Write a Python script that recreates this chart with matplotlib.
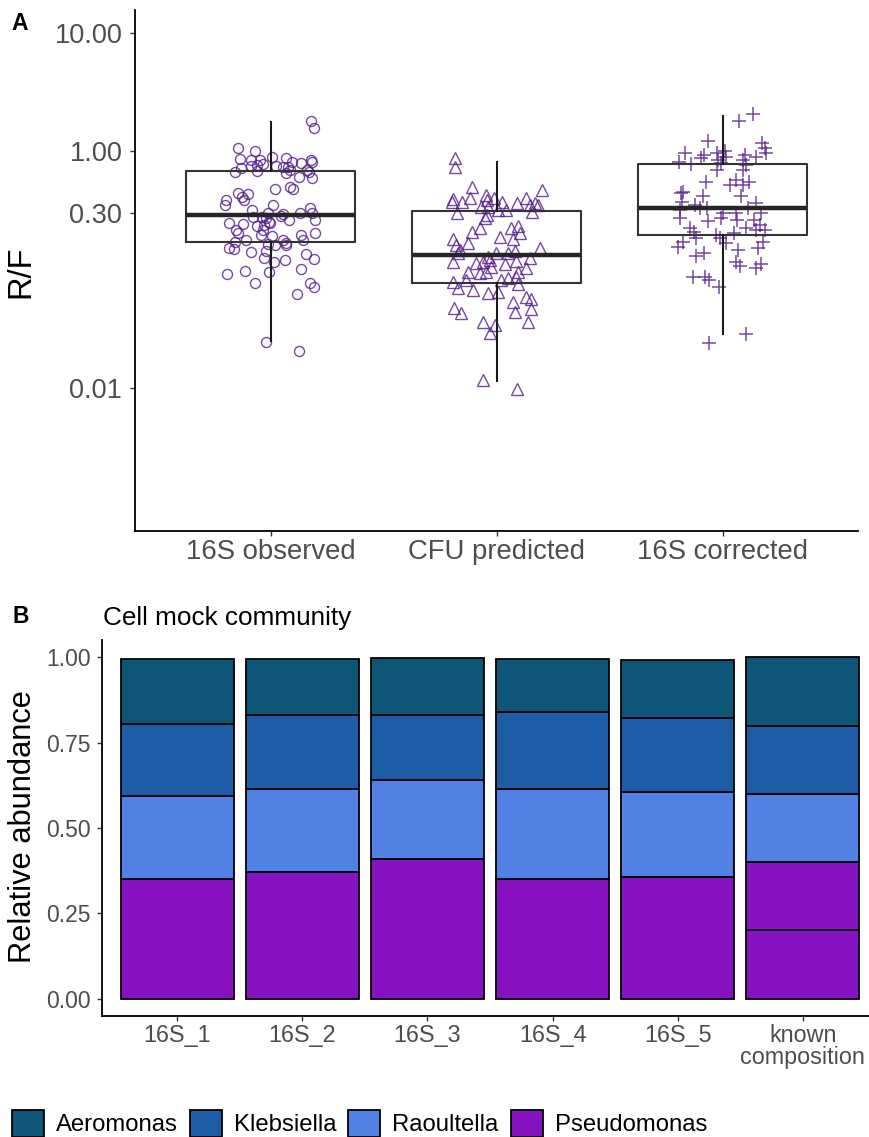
import numpy as np
import matplotlib
matplotlib.use('Agg')
import matplotlib.pyplot as plt
from matplotlib.patches import Patch
from matplotlib.ticker import FixedLocator, NullLocator

plt.rcParams['font.family'] = ['Liberation Sans', 'DejaVu Sans']

# ---------------- Panel A data ----------------
groups = ['16S observed', 'CFU predicted', '16S corrected']

obs_rf = [1.81, 1.57, 1.06, 1.00, 0.90, 0.86, 0.85, 0.84, 0.875, 0.82,
          0.80, 0.85, 0.815, 0.72, 0.76, 0.77, 0.78, 0.76, 0.74, 0.74,
          0.70, 0.675, 0.68, 0.66, 0.61, 0.70, 0.675, 0.60, 0.48, 0.50,
          0.48, 0.45, 0.415, 0.435, 0.39, 0.39, 0.35, 0.35, 0.32, 0.30,
          0.296, 0.30, 0.33, 0.30, 0.28, 0.278, 0.272, 0.255, 0.285, 0.264,
          0.264, 0.25, 0.244, 0.235, 0.239, 0.247, 0.217, 0.206, 0.217, 0.197,
          0.193, 0.197, 0.179, 0.206, 0.179, 0.173, 0.179, 0.17, 0.165, 0.162,
          0.162, 0.152, 0.149, 0.144, 0.14, 0.136, 0.127, 0.123, 0.116, 0.121,
          0.098, 0.095, 0.092, 0.101, 0.077, 0.078, 0.071, 0.062, 0.0247, 0.0207]
obs_jit = [0.18, 0.19, -0.145, -0.07, 0.006, -0.134, -0.088, -0.049, 0.069, 0.096,
           0.136, 0.18, 0.184, -0.13, -0.087, -0.06, -0.034, 0.025, 0.055, 0.077,
           0.084, -0.156, -0.059, 0.069, 0.125, 0.162, 0.168, 0.183, 0.018, 0.084,
           0.099, -0.145, -0.127, -0.10, -0.118, -0.196, -0.20, 0.01, -0.081, -0.012,
           0.055, 0.131, 0.173, 0.184, -0.078, -0.037, -0.019, -0.007, 0.047, 0.081,
           0.195, -0.186, -0.12, -0.06, -0.027, -0.004, -0.152, -0.145, -0.034, -0.041,
           0.007, 0.136, 0.143, 0.195, -0.111, -0.156, 0.055, 0.069, -0.012, 0.021,
           0.069, -0.186, -0.164, -0.022, -0.086, 0.158, -0.027, 0.19, 0.013, 0.062,
           -0.112, -0.007, -0.192, 0.136, -0.071, 0.173, 0.19, 0.118, -0.019, 0.125]

cfu_rf = [0.875, 0.744, 0.50, 0.394, 0.377, 0.377, 0.402, 0.429, 0.389, 0.402,
          0.342, 0.342, 0.377, 0.369, 0.402, 0.369, 0.473, 0.353, 0.353, 0.32,
          0.32, 0.304, 0.29, 0.272, 0.31, 0.224, 0.21, 0.19, 0.224, 0.235,
          0.203, 0.182, 0.182, 0.162, 0.167, 0.147, 0.138, 0.152, 0.129, 0.138,
          0.138, 0.145, 0.117, 0.115, 0.117, 0.121, 0.106, 0.112, 0.119, 0.125,
          0.0964, 0.0933, 0.0964, 0.0964, 0.103, 0.079, 0.082, 0.082, 0.086, 0.087,
          0.07, 0.0675, 0.064, 0.065, 0.076, 0.0538, 0.0593, 0.0563, 0.0472, 0.0434,
          0.0443, 0.0463, 0.0365, 0.0341, 0.029, 0.0365, 0.0117, 0.0098]
cfu_jit = [-0.186, -0.183, -0.109, -0.193, -0.196, -0.153, -0.117, -0.049, -0.043, -0.012,
           -0.068, -0.038, 0.025, 0.09, 0.131, 0.168, 0.20, 0.183, 0.146, 0.043,
           0.007, -0.176, -0.043, -0.053, 0.158, -0.075, -0.108, 0.016, 0.065, 0.094,
           0.102, 0.072, -0.193, -0.178, -0.127, -0.164, -0.171, 0.19, -0.038, -0.001,
           0.05, 0.08, -0.193, -0.093, -0.06, -0.031, -0.024, 0.035, 0.087, 0.146,
           -0.127, -0.075, -0.046, 0.094, 0.131, -0.193, -0.134, 0.021, 0.05, 0.087,
           -0.171, -0.105, -0.038, 0.006, 0.094, 0.072, 0.128, 0.153, -0.19, -0.159,
           0.08, 0.153, -0.058, -0.009, -0.031, 0.139, -0.06, 0.09]

cor_rf = [2.06, 1.81, 1.23, 1.17, 0.98, 1.06, 0.965, 0.934, 0.965, 1.01,
          0.904, 0.934, 0.904, 0.82, 0.78, 0.875, 0.85, 0.794, 0.85, 0.769,
          0.698, 0.698, 0.549, 0.521, 0.574, 0.521, 0.549, 0.458, 0.443, 0.423,
          0.423, 0.377, 0.353, 0.331, 0.334, 0.32, 0.30, 0.30, 0.331, 0.365,
          0.30, 0.276, 0.259, 0.272, 0.264, 0.264, 0.239, 0.224, 0.207, 0.197,
          0.185, 0.203, 0.224, 0.217, 0.217, 0.173, 0.157, 0.185, 0.167, 0.173,
          0.132, 0.138, 0.147, 0.154, 0.117, 0.108, 0.113, 0.104, 0.0875, 0.0875,
          0.082, 0.071, 0.0239, 0.0286]
cor_jit = [0.134, 0.071, -0.066, 0.176, 0.193, 0.186, -0.168, -0.084, -0.025, 0.009,
           0.016, 0.097, 0.149, -0.193, -0.139, -0.094, -0.021, -0.006, 0.09, 0.105,
           -0.025, 0.09, -0.075, 0.031, 0.058, 0.09, 0.119, -0.176, -0.183, -0.087,
           0.083, -0.18, -0.124, -0.102, -0.068, -0.19, 0.001, 0.058, 0.112, 0.149,
           0.171, -0.19, -0.065, -0.006, 0.063, 0.137, 0.164, -0.146, -0.127, -0.031,
           -0.013, 0.049, 0.105, 0.149, 0.186, -0.176, -0.198, -0.119, 0.016, 0.178,
           -0.117, -0.084, 0.068, 0.156, 0.06, 0.078, 0.171, 0.146, -0.131, -0.078,
           -0.06, -0.016, -0.058, 0.102]

# box statistics (whisker low, Q1, median, Q3, whisker high)
box_lo = [0.0252, 0.0114, 0.0285]
box_q1 = [0.171, 0.078, 0.197]
box_med = [0.29, 0.133, 0.335]
box_q3 = [0.684, 0.314, 0.78]
box_hi = [1.79, 0.81, 2.01]

yticks_a = [0.01, 0.30, 1.00, 10.00]
yticklabels_a = ['0.01', '0.30', '1.00', '10.00']

# ---------------- Panel B data ----------------
samples = ['16S_1', '16S_2', '16S_3', '16S_4', '16S_5', 'known\ncomposition']
pseudomonas = [0.351, 0.370, 0.410, 0.350, 0.356, 0.2]
pseudomonas_2 = [0.0, 0.0, 0.0, 0.0, 0.0, 0.2]
raoultella = [0.243, 0.245, 0.230, 0.264, 0.249, 0.2]
klebsiella = [0.210, 0.216, 0.192, 0.225, 0.216, 0.2]
aeromonas = [0.190, 0.164, 0.166, 0.155, 0.171, 0.2]

species_names = ['Aeromonas', 'Klebsiella', 'Raoultella', 'Pseudomonas']
species_colors = {'Aeromonas': '#0E5677', 'Klebsiella': '#1D5CA6',
                  'Raoultella': '#5281E6', 'Pseudomonas': '#8612C2'}

# ---------------- Figure ----------------
W, H = 869, 1137
fig = plt.figure(figsize=(W / 100, H / 100), dpi=100)

def fx(px):
    return px / W

def fy(py):
    return 1 - py / H

grey = '#4D4D4D'
pt_col = '#551A8B'

# Panel A axes
a_left, a_right, a_top, a_bot = 135, 858.2, 10, 530.7
axA = fig.add_axes([fx(a_left), fy(a_bot), fx(a_right - a_left), (a_bot - a_top) / H])
axA.set_yscale('log')
axA.set_xlim(0.4, 3.6)
axA.set_ylim(0.000623, 15.7)

markers = ['o', '^', '+']
msizes = [7.2, 8.6, 9.5]
for i, (vals, jit) in enumerate([(obs_rf, obs_jit), (cfu_rf, cfu_jit), (cor_rf, cor_jit)]):
    xs = np.array(jit) + (i + 1)
    if markers[i] == '+':
        axA.plot(xs, vals, linestyle='none', marker='+', markersize=msizes[i],
                 mec=pt_col, mew=1.1, alpha=0.8, zorder=2)
    else:
        axA.plot(xs, vals, linestyle='none', marker=markers[i], markersize=msizes[i],
                 mfc='none', mec=pt_col, mew=1.0, alpha=0.8, zorder=2)

stats = []
for i in range(3):
    stats.append(dict(whislo=box_lo[i], q1=box_q1[i], med=box_med[i],
                      q3=box_q3[i], whishi=box_hi[i], fliers=[]))
axA.bxp(stats, positions=[1, 2, 3], widths=0.75, showfliers=False,
        showcaps=False, patch_artist=False,
        boxprops=dict(color='#333333', linewidth=1.5),
        whiskerprops=dict(color='#1a1a1a', linewidth=1.5),
        medianprops=dict(color='#262626', linewidth=3.2, solid_capstyle='butt'),
        manage_ticks=False, zorder=3)

axA.yaxis.set_major_locator(FixedLocator(yticks_a))
axA.set_yticklabels(yticklabels_a)
axA.yaxis.set_minor_locator(NullLocator())
axA.set_xticks([1, 2, 3])
axA.set_xticklabels(groups)
for s in ['top', 'right']:
    axA.spines[s].set_visible(False)
for s in ['left', 'bottom']:
    axA.spines[s].set_linewidth(1.3)
    axA.spines[s].set_color('black')
axA.tick_params(axis='y', labelsize=19.5, labelcolor=grey, color='#333333',
                length=3.6, width=1.0, pad=5.5)
axA.tick_params(axis='x', labelsize=19.8, labelcolor=grey, color='#333333',
                length=3.6, width=1.0, pad=2.5)

fig.text(fx(21), fy(272), 'R/F', rotation=90, ha='center', va='center', fontsize=23.5, color='black')
fig.text(fx(11), fy(30), 'A', fontsize=16.5, fontweight='bold', ha='left', va='baseline')

# Panel B axes
b_left, b_right, b_top, b_bot = 102.2, 877.8, 640.2, 1015.8
axB = fig.add_axes([fx(b_left), fy(b_bot), fx(b_right - b_left), (b_bot - b_top) / H])
axB.set_xlim(0.4, 6.6)
axB.set_ylim(-0.05, 1.05)

xpos = np.arange(1, len(samples) + 1)
layers = [('Pseudomonas', pseudomonas), ('Pseudomonas', pseudomonas_2),
          ('Raoultella', raoultella), ('Klebsiella', klebsiella), ('Aeromonas', aeromonas)]
bottom = np.zeros(len(samples))
for name, vals in layers:
    vals = np.array(vals, dtype=float)
    m = vals > 0
    axB.bar(xpos[m], vals[m], bottom=bottom[m], width=0.9,
            color=species_colors[name], edgecolor='black', linewidth=1.3, zorder=2)
    bottom = bottom + vals

axB.set_yticks([0.0, 0.25, 0.5, 0.75, 1.0])
axB.set_yticklabels(['0.00', '0.25', '0.50', '0.75', '1.00'])
axB.set_xticks(xpos)
axB.set_xticklabels(samples, linespacing=0.95)
for s in ['top', 'right']:
    axB.spines[s].set_visible(False)
for s in ['left', 'bottom']:
    axB.spines[s].set_linewidth(1.3)
    axB.spines[s].set_color('black')
axB.tick_params(axis='y', labelsize=16.5, labelcolor=grey, color='#333333',
                length=3.6, width=1.0, pad=4.5)
axB.tick_params(axis='x', labelsize=16.8, labelcolor=grey, color='#333333',
                length=3.6, width=1.0, pad=2.0)

fig.text(fx(23), fy(827), 'Relative abundance', rotation=90, ha='center', va='center',
         fontsize=22.2, color='black')
fig.text(fx(103), fy(625), 'Cell mock community', fontsize=18.8, ha='left', va='baseline', color='black')
fig.text(fx(12), fy(623.3), 'B', fontsize=16.5, fontweight='bold', ha='left', va='baseline')

handles = [Patch(facecolor=species_colors[n], edgecolor='black', linewidth=1.3, label=n)
           for n in species_names]
fig.legend(handles=handles, loc='lower left', bbox_to_anchor=(fx(11.5), fy(1136.5)),
           ncol=4, frameon=False, fontsize=17.2, borderpad=0, borderaxespad=0,
           handlelength=1.35, handleheight=1.3, handletextpad=0.5, columnspacing=0.5)

fig.savefig('out.png', dpi=100)
